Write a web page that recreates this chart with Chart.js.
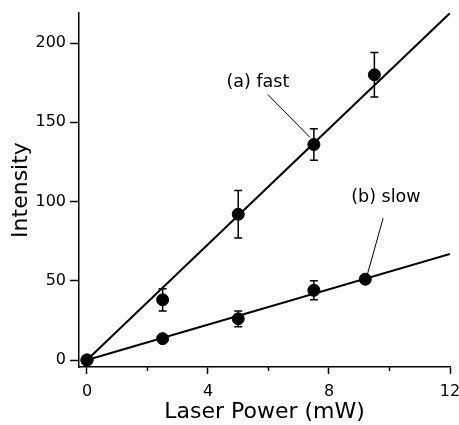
<!DOCTYPE html>
<html>
<head>
<meta charset="utf-8">
<script src="https://cdn.jsdelivr.net/npm/chart.js@4.4.0/dist/chart.umd.min.js"></script>
<style>
  html, body { margin: 0; padding: 0; background: #fff; }
  #wrap { width: 459px; height: 425px; }
</style>
</head>
<body>
<div id="wrap"><canvas id="myChart"></canvas></div>
<script>
// data
const fastX = [0, 2.5, 5, 7.5, 9.5];
const fastY = [0, 38, 92, 136, 180];
const fastErr = [0, 7, 15, 10, 14];
const slowX = [0, 2.5, 5, 7.5, 9.2];
const slowY = [0, 13.5, 26, 44, 51];
const slowErr = [0, 0, 5, 6, 0];
// fitted lines (end points)
const fastFitX = [0, 12];
const fastFitY = [0, 219];
const slowFitX = [0, 12];
const slowFitY = [0, 67];
const xTicks = [0, 2, 4, 6, 8, 10, 12];
const xLabels = [0, 4, 8, 12];
const yTicks = [0, 50, 100, 150, 200];
// annotations: label position + leader line, in data units
const notes = [
  { text: "(a) fast", x: 5.65, y: 175, from: [5.98, 167.5], to: [7.37, 140.5] },
  { text: "(b) slow", x: 9.88, y: 102.8, from: [9.79, 89.5], to: [9.26, 53.5] },
];

const FONT = "'DejaVu Sans', sans-serif";

function pts(xs, ys) {
  return xs.map((x, i) => ({ x: x, y: ys[i] }));
}

const errorBars = {
  id: "errorBars",
  afterDatasetsDraw(chart) {
    const ctx = chart.ctx;
    const xs = chart.scales.x, ys = chart.scales.y;
    const sets = [[fastX, fastY, fastErr], [slowX, slowY, slowErr]];
    ctx.save();
    ctx.strokeStyle = "#000";
    ctx.lineWidth = 1.5;
    sets.forEach(([X, Y, E]) => {
      X.forEach((x, i) => {
        if (!E[i]) return;
        const px = xs.getPixelForValue(x);
        const top = ys.getPixelForValue(Y[i] + E[i]);
        const bot = ys.getPixelForValue(Y[i] - E[i]);
        ctx.beginPath();
        ctx.moveTo(px, top); ctx.lineTo(px, bot);
        ctx.moveTo(px - 4, top); ctx.lineTo(px + 4, top);
        ctx.moveTo(px - 4, bot); ctx.lineTo(px + 4, bot);
        ctx.stroke();
      });
    });
    ctx.restore();
  },
};

// short minor ticks on the x axis (2, 6, 10)
const minorTicks = {
  id: "minorTicks",
  afterDraw(chart) {
    const ctx = chart.ctx;
    const xs = chart.scales.x;
    ctx.save();
    ctx.strokeStyle = "#000";
    ctx.lineWidth = 1.5;
    xTicks.filter((v) => !xLabels.includes(v)).forEach((v) => {
      const px = xs.getPixelForValue(v);
      ctx.beginPath();
      ctx.moveTo(px, xs.top);
      ctx.lineTo(px, xs.top + 4);
      ctx.stroke();
    });
    ctx.restore();
  },
};

const labels = {
  id: "labels",
  afterDraw(chart) {
    const ctx = chart.ctx;
    const xs = chart.scales.x, ys = chart.scales.y;
    ctx.save();
    ctx.fillStyle = "#000";
    ctx.strokeStyle = "#000";
    ctx.lineWidth = 1;
    ctx.font = "17.5px " + FONT;
    ctx.textAlign = "center";
    ctx.textBaseline = "middle";
    notes.forEach((n) => {
      ctx.fillText(n.text, xs.getPixelForValue(n.x), ys.getPixelForValue(n.y));
      ctx.beginPath();
      ctx.moveTo(xs.getPixelForValue(n.from[0]), ys.getPixelForValue(n.from[1]));
      ctx.lineTo(xs.getPixelForValue(n.to[0]), ys.getPixelForValue(n.to[1]));
      ctx.stroke();
    });
    ctx.restore();
  },
};

const ctx = document.getElementById("myChart").getContext("2d");
new Chart(ctx, {
  type: "scatter",
  data: {
    datasets: [
      {
        label: "fast fit",
        type: "line",
        data: pts(fastFitX, fastFitY),
        borderColor: "#000",
        borderWidth: 2,
        pointRadius: 0,
        fill: false,
      },
      {
        label: "slow fit",
        type: "line",
        data: pts(slowFitX, slowFitY),
        borderColor: "#000",
        borderWidth: 2,
        pointRadius: 0,
        fill: false,
      },
      {
        label: "fast",
        data: pts(fastX, fastY),
        backgroundColor: "#000",
        borderColor: "#000",
        pointRadius: 6,
        clip: false,
      },
      {
        label: "slow",
        data: pts(slowX, slowY),
        backgroundColor: "#000",
        borderColor: "#000",
        pointRadius: 6,
        clip: false,
      },
    ],
  },
  options: {
    responsive: true,
    maintainAspectRatio: false,
    animation: false,
    layout: { padding: { top: 13, right: 9, left: 0, bottom: 0 } },
    scales: {
      x: {
        type: "linear",
        min: -0.264,
        max: 12,
        afterBuildTicks: (s) => { s.ticks = xTicks.map((v) => ({ value: v })); },
        afterFit: (s) => { s.height = 58; s.paddingLeft = 0; s.paddingRight = 0; },
        border: { display: true, color: "#000", width: 1.5 },
        grid: {
          drawOnChartArea: false,
          drawTicks: true,
          tickLength: 7,
          tickColor: (c) => (c.tick && xLabels.includes(c.tick.value) ? "#000" : "rgba(0,0,0,0)"),
          tickWidth: 1.5,
        },
        ticks: {
          color: "#000",
          font: { family: FONT, size: 16 },
          padding: 8,
          maxRotation: 0,
          autoSkip: false,
          callback: (v) => (xLabels.includes(v) ? String(v) : ""),
        },
        title: {
          display: true,
          text: "Laser Power (mW)",
          color: "#000",
          font: { family: FONT, size: 22 },
          padding: { top: 0, bottom: 0 },
        },
      },
      y: {
        type: "linear",
        min: -4.4,
        max: 219,
        afterBuildTicks: (s) => { s.ticks = yTicks.map((v) => ({ value: v })); },
        afterFit: (s) => { s.width = 79; s.paddingTop = 0; s.paddingBottom = 0; },
        border: { display: true, color: "#000", width: 1.5 },
        grid: { drawOnChartArea: false, drawTicks: true, tickLength: 9, tickColor: "#000", tickWidth: 1.5 },
        ticks: {
          color: "#000",
          font: { family: FONT, size: 16 },
          padding: 4,
        },
        title: {
          display: true,
          text: "Intensity",
          color: "#000",
          font: { family: FONT, size: 22 },
          padding: { top: 8, bottom: 0 },
        },
      },
    },
    plugins: {
      legend: { display: false },
      tooltip: { enabled: false },
      title: { display: false },
    },
  },
  plugins: [errorBars, minorTicks, labels],
});
</script>
</body>
</html>
